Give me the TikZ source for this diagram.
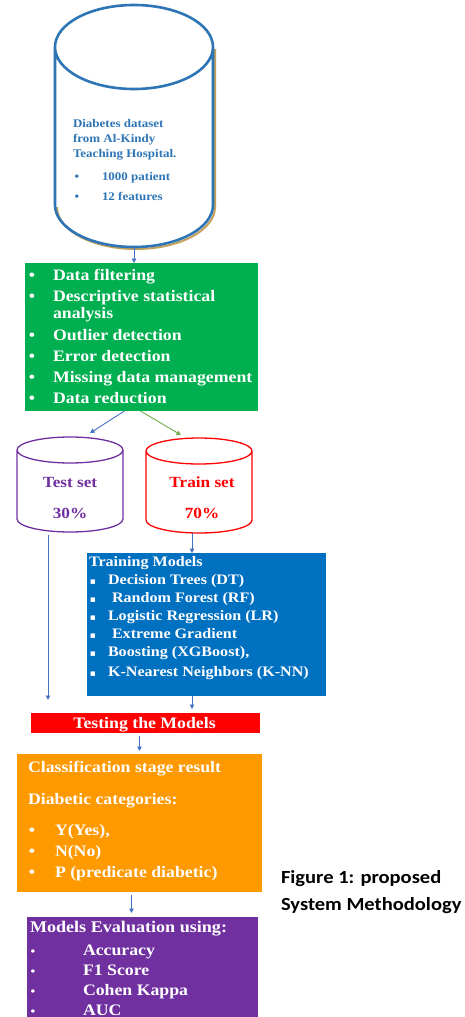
\documentclass[tikz,border=0pt]{standalone}
\usepackage{fontspec}
\setmainfont{Liberation Serif}[FakeStretch=1.11]
\newfontfamily\capfont{Carlito}[FakeStretch=1.11]
\newfontfamily\symfont{DejaVu Sans}
\usetikzlibrary{calc,arrows.meta}
\definecolor{dsblue}{HTML}{2E75B6}
\definecolor{gbox}{HTML}{00B050}
\definecolor{bbox}{HTML}{0070C0}
\definecolor{rbox}{HTML}{FF0000}
\definecolor{obox}{HTML}{FF9900}
\definecolor{pbox}{HTML}{7030A0}
\definecolor{arrblue}{HTML}{4472C4}
\definecolor{arrgreen}{HTML}{70AD47}
\definecolor{shadowtan}{HTML}{C4A15A}
\newcommand\drawcyl[3]{%
  \draw[#3] let \p1=(#1.north west), \p2=(#1.south east), \n1={(\x2-\x1)/2} in
    ($(#1.north)+(0pt,-#2)$) ellipse [x radius=\n1, y radius=#2]
    ($(#1.north west)+(0pt,-#2)$) -- ($(#1.south west)+(0pt,#2)$)
    arc [start angle=180, end angle=360, x radius=\n1, y radius=#2]
    -- ($(#1.north east)+(0pt,-#2)$);
}
\tikzset{
  box/.style={inner sep=0, outer sep=0, anchor=north west},
  holder/.style={inner sep=0, outer sep=0, anchor=north west},
  wtxt/.style={anchor=base west, inner sep=0, outer sep=0, text=white,
    font=\bfseries\fontsize{16}{19}\selectfont},
  wbul/.style={anchor=base, inner sep=0, outer sep=0, text=white,
    font=\bfseries\fontsize{16}{19}\selectfont},
  ttxt/.style={anchor=base west, inner sep=0, outer sep=0, text=white,
    font=\bfseries\fontsize{14.5}{18}\selectfont},
  tbul/.style={anchor=base, inner sep=0, outer sep=0, text=white,
    font=\symfont\fontsize{9}{10}\selectfont},
  dstxt/.style={anchor=base west, inner sep=0, outer sep=0, text=dsblue,
    font=\bfseries\fontsize{11.7}{14}\selectfont},
  dsbul/.style={anchor=base, inner sep=0, outer sep=0, text=dsblue,
    font=\bfseries\fontsize{11.7}{14}\selectfont},
  settxt/.style={anchor=base, inner sep=0, outer sep=0,
    font=\bfseries\fontsize{15.5}{18}\selectfont},
  captxt/.style={anchor=base west, inner sep=0, outer sep=0, text=black,
    font=\capfont\bfseries\fontsize{18.5}{22}\selectfont},
  arr/.style={-{Triangle[length=4.5pt,width=4.5pt]}, draw=arrblue, line width=0.9pt},
}
\begin{document}
\begin{tikzpicture}[x=1pt,y=-1pt]
\useasboundingbox[fill=white] (0,0) rectangle (465,1017);

% ---------- dataset cylinder ----------
\node[holder, minimum width=158pt, minimum height=242pt] (ds) at (55,5) {};
\draw[shadowtan, line width=2pt] let \p1=(ds.north west), \p2=(ds.south east), \n1={(\x2-\x1)/2} in
  ($(ds.south west)+(2pt,40pt)$) arc [start angle=180, end angle=360, x radius=\n1, y radius=42pt]
  -- ($(ds.north east)+(2pt,-44pt)$);
\drawcyl{ds}{42pt}{draw=dsblue, line width=2.6pt}
\node[dstxt] (ds1) at (73,127) {Diabetes dataset};
\node[dstxt] (ds2) at (73,142) {from Al-Kindy};
\node[dstxt] (ds3) at (73,157) {Teaching Hospital.};
\node[dsbul] (dsb1) at (77,180) {•};
\node[dstxt] (ds4) at (102,180) {1000 patient};
\node[dsbul] (dsb2) at (77,200) {•};
\node[dstxt] (ds5) at (102,200) {12 features};

% ---------- preprocessing box ----------
\node[box, fill=gbox, minimum width=233pt, minimum height=148pt] (green) at (25,263) {};
\node[wbul] (gb1) at (32,280) {•};
\node[wtxt] (g1) at (53,280) {Data filtering};
\node[wbul] (gb2) at (32,301) {•};
\node[wtxt] (g2) at (53,301) {Descriptive statistical};
\node[wtxt] (g2b) at (53,318) {analysis};
\node[wbul] (gb3) at (32,340) {•};
\node[wtxt] (g3) at (53,340) {Outlier detection};
\node[wbul] (gb4) at (32,361) {•};
\node[wtxt] (g4) at (53,361) {Error detection};
\node[wbul] (gb5) at (32,382) {•};
\node[wtxt] (g5) at (53,382) {Missing data management};
\node[wbul] (gb6) at (32,403) {•};
\node[wtxt] (g6) at (53,403) {Data reduction};

% ---------- test / train cylinders ----------
\node[holder, minimum width=106pt, minimum height=95pt] (test) at (17,437) {};
\drawcyl{test}{13pt}{draw=pbox, line width=1.3pt}
\node[settxt, text=pbox] (test1) at (70,487) {Test set};
\node[settxt, text=pbox] (test2) at (70,518) {30\%};

\node[holder, minimum width=106pt, minimum height=95pt] (train) at (146,438) {};
\drawcyl{train}{13pt}{draw=rbox, line width=1.3pt}
\node[settxt, text=rbox] (train1) at (202,487) {Train set};
\node[settxt, text=rbox] (train2) at (202,518) {70\%};

% ---------- training box ----------
\node[box, fill=bbox, minimum width=239pt, minimum height=143pt] (training) at (87,553) {};
\node[ttxt] (t0) at (89,566) {Training Models};
\node[tbul] (tb1) at (93,584) {▪};
\node[ttxt] (t1) at (108,584) {Decision Trees (DT)};
\node[tbul] (tb2) at (93,602) {▪};
\node[ttxt] (t2) at (112,602) {Random Forest (RF)};
\node[tbul] (tb3) at (93,620) {▪};
\node[ttxt] (t3) at (108,620) {Logistic Regression (LR)};
\node[tbul] (tb4) at (93,638) {▪};
\node[ttxt] (t4) at (112,638) {Extreme Gradient};
\node[tbul] (tb5) at (93,656) {▪};
\node[ttxt] (t5) at (108,656) {Boosting (XGBoost),};
\node[tbul] (tb6) at (93,676) {▪};
\node[ttxt] (t6) at (108,676) {K-Nearest Neighbors (K-NN)};

% ---------- testing box ----------
\node[box, fill=rbox, minimum width=229pt, minimum height=20pt] (testing) at (31,713) {};
\node[wtxt, anchor=base] (te1) at (144.5,728) {Testing the Models};

% ---------- classification box ----------
\node[box, fill=obox, minimum width=245pt, minimum height=138pt] (orange) at (17,754) {};
\node[wtxt] (o1) at (28,772) {Classification stage result};
\node[wtxt] (o2) at (28,804) {Diabetic categories:};
\node[wbul] (ob1) at (32,835) {•};
\node[wtxt] (o3) at (55,835) {Y(Yes),};
\node[wbul] (ob2) at (32,856) {•};
\node[wtxt] (o4) at (55,856) {N(No)};
\node[wbul] (ob3) at (32,877) {•};
\node[wtxt] (o5) at (55,877) {P (predicate diabetic)};

% ---------- evaluation box ----------
\node[box, fill=pbox, minimum width=231pt, minimum height=100pt] (purple) at (27,917) {};
\node[wtxt, font=\bfseries\fontsize{16.3}{19}\selectfont] (p0) at (30,932) {Models Evaluation using:};
\node[wbul, font=\bfseries\fontsize{12}{14}\selectfont] (pb1) at (33,955) {•};
\node[wtxt] (p1) at (83,955) {Accuracy};
\node[wbul, font=\bfseries\fontsize{12}{14}\selectfont] (pb2) at (33,975) {•};
\node[wtxt] (p2) at (83,975) {F1 Score};
\node[wbul, font=\bfseries\fontsize{12}{14}\selectfont] (pb3) at (33,995) {•};
\node[wtxt] (p3) at (83,995) {Cohen Kappa};
\node[wbul, font=\bfseries\fontsize{12}{14}\selectfont] (pb4) at (33,1015) {•};
\node[wtxt] (p4) at (83,1015) {AUC};

% ---------- caption ----------
\node[captxt] (cap1) at (281,883) {Figure 1: proposed};
\node[captxt] (cap2) at (281,910) {System Methodology};

% ---------- connectors ----------
\coordinate (tend) at (48,700);
\draw[arr] (ds.south) -- (ds.south |- green.north);
\draw[arr] ([xshift=-17pt]green.south) -- ([xshift=20pt,yshift=4pt]test.north);
\draw[arr, draw=arrgreen] ([xshift=-1pt]green.south) -- ([xshift=-18pt,yshift=3pt]train.north);
\draw[arr] ([xshift=-22pt,yshift=-3pt]test.south) -- (tend);
\draw[arr] ([xshift=-7pt]train.south) -- ([xshift=-7pt]train.south |- training.north);
\draw[arr, shorten >=4pt] ([xshift=-14.5pt]training.south) -- ([xshift=-14.5pt]training.south |- testing.north);
\draw[arr, shorten >=3pt, shorten <=3pt] (orange.north |- testing.south) -- (orange.north);
\draw[arr, shorten >=4pt, shorten <=3pt] ([xshift=-8pt]orange.south) -- ([xshift=-8pt]orange.south |- purple.north);
\end{tikzpicture}
\end{document}
